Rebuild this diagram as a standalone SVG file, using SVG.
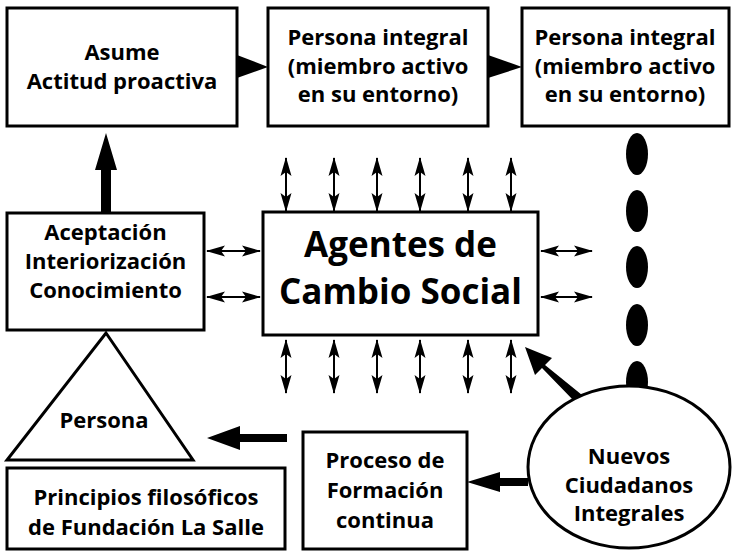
<svg xmlns="http://www.w3.org/2000/svg" width="732" height="553" viewBox="0 0 732 553">
<defs>
<style>
.box{fill:#fff;stroke:#000;stroke-width:3}
.t{font-family:"Open Sans",Lato,"DejaVu Sans",sans-serif;font-weight:bold;font-size:22px;fill:#000;text-anchor:middle}
.big{font-size:35px}
.thin{stroke:#000;stroke-width:2;fill:none}
.fill{fill:#000;stroke:none}
</style>
<marker id="dh" markerUnits="userSpaceOnUse" markerWidth="19" markerHeight="12" refX="18" refY="6" orient="auto-start-reverse" viewBox="0 0 19 12">
<path d="M0,0.5 L19,6 L0,11.5 L4,6 z" fill="#000"/>
</marker>
</defs>
<rect width="732" height="553" fill="#fff"/>

<g id="connectors">
<polygon class="fill" points="237,55 237,78 268,67"/>
<polygon class="fill" points="488,55 488,78 522,67"/>
<polygon class="fill" points="101,213 101,170 95,170 106,133 117,170 111,170 111,213"/>
<g class="thin">
<line x1="286" y1="158" x2="286" y2="211" marker-start="url(#dh)" marker-end="url(#dh)"/>
<line x1="334" y1="158" x2="334" y2="211" marker-start="url(#dh)" marker-end="url(#dh)"/>
<line x1="377" y1="158" x2="377" y2="211" marker-start="url(#dh)" marker-end="url(#dh)"/>
<line x1="420" y1="158" x2="420" y2="211" marker-start="url(#dh)" marker-end="url(#dh)"/>
<line x1="468" y1="158" x2="468" y2="211" marker-start="url(#dh)" marker-end="url(#dh)"/>
<line x1="511" y1="158" x2="511" y2="211" marker-start="url(#dh)" marker-end="url(#dh)"/>
<line x1="286" y1="340" x2="286" y2="393" marker-start="url(#dh)" marker-end="url(#dh)"/>
<line x1="334" y1="340" x2="334" y2="393" marker-start="url(#dh)" marker-end="url(#dh)"/>
<line x1="377" y1="340" x2="377" y2="393" marker-start="url(#dh)" marker-end="url(#dh)"/>
<line x1="420" y1="340" x2="420" y2="393" marker-start="url(#dh)" marker-end="url(#dh)"/>
<line x1="468" y1="340" x2="468" y2="393" marker-start="url(#dh)" marker-end="url(#dh)"/>
<line x1="511" y1="340" x2="511" y2="393" marker-start="url(#dh)" marker-end="url(#dh)"/>
<line x1="207" y1="251" x2="260" y2="251" marker-start="url(#dh)" marker-end="url(#dh)"/>
<line x1="207" y1="297" x2="260" y2="297" marker-start="url(#dh)" marker-end="url(#dh)"/>
<line x1="541" y1="251" x2="592" y2="251" marker-start="url(#dh)" marker-end="url(#dh)"/>
<line x1="541" y1="297" x2="592" y2="297" marker-start="url(#dh)" marker-end="url(#dh)"/>
</g>
<polygon class="fill" points="287,434 287,442 240,442 240,450 207,438 240,426 240,434"/>
<polygon class="fill" points="528,478 528,486 500,486 500,492 467,482 500,472 500,478"/>
<polygon class="fill" points="582,395 575,402 542,368 535,375 525,347 552,358 545,365"/>
<g id="dots" class="fill">
<ellipse cx="637" cy="154" rx="11" ry="21"/>
<ellipse cx="637" cy="211" rx="11" ry="21"/>
<ellipse cx="637" cy="267" rx="11" ry="21"/>
<ellipse cx="637" cy="325" rx="11" ry="21"/>
<ellipse cx="637" cy="382" rx="11" ry="21"/>
</g>
</g>

<g id="asume">
<rect class="box" x="7" y="8" width="230" height="118"/>
<text class="t" x="122" y="60">Asume</text>
<text class="t" x="122" y="89">Actitud proactiva</text>
</g>
<g id="persona-integral-1">
<rect class="box" x="268" y="8" width="220" height="118"/>
<text class="t" x="378" y="45">Persona integral</text>
<text class="t" x="378" y="74">(miembro activo</text>
<text class="t" x="378" y="102">en su entorno)</text>
</g>
<g id="persona-integral-2">
<rect class="box" x="522" y="8" width="207" height="118"/>
<text class="t" x="625" y="45">Persona integral</text>
<text class="t" x="625" y="74">(miembro activo</text>
<text class="t" x="625" y="102">en su entorno)</text>
</g>
<g id="aceptacion">
<rect class="box" x="7" y="213" width="197" height="117"/>
<text class="t" x="105.5" y="240">Aceptación</text>
<text class="t" x="105.5" y="269">Interiorización</text>
<text class="t" x="105.5" y="298">Conocimiento</text>
</g>
<g id="agentes">
<rect class="box" x="263" y="212" width="275" height="123"/>
<text class="t big" x="400.5" y="257">Agentes de</text>
<text class="t big" x="400.5" y="304">Cambio Social</text>
</g>
<g id="persona">
<polygon class="box" points="106,333 193,460 7,460"/>
<text class="t" x="104" y="428">Persona</text>
</g>
<g id="principios">
<rect class="box" x="7" y="468" width="278" height="81"/>
<text class="t" x="146" y="505">Principios filosóficos</text>
<text class="t" x="146" y="535">de Fundación La Salle</text>
</g>
<g id="proceso">
<rect class="box" x="303" y="432" width="164" height="117"/>
<text class="t" x="385" y="468">Proceso de</text>
<text class="t" x="385" y="498">Formación</text>
<text class="t" x="385" y="528">continua</text>
</g>
<g id="nuevos">
<ellipse class="box" cx="629" cy="467" rx="101" ry="81"/>
<text class="t" x="629" y="464">Nuevos</text>
<text class="t" x="629" y="493">Ciudadanos</text>
<text class="t" x="629" y="521">Integrales</text>
</g>
</svg>
